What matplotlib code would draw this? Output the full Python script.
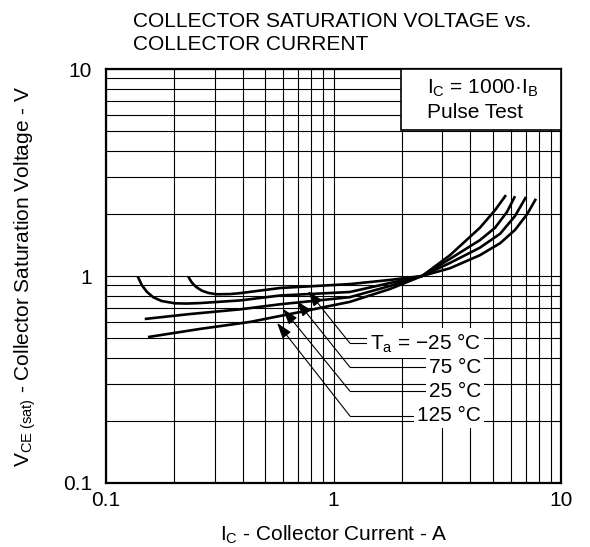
import matplotlib

matplotlib.use("Agg")
import matplotlib.pyplot as plt  # noqa: E402
from matplotlib.patches import Rectangle  # noqa: E402
from matplotlib.ticker import FixedLocator, NullFormatter  # noqa: E402

plt.rcParams["font.family"] = ["Liberation Sans", "DejaVu Sans"]
plt.rcParams["mathtext.fontset"] = "custom"
plt.rcParams["mathtext.rm"] = "Liberation Sans"
plt.rcParams["mathtext.it"] = "Liberation Sans"
plt.rcParams["axes.unicode_minus"] = True

FS = 15

# Ic [A] / VCE(sat) [V], one pair of lists per temperature
IC_M25 = [0.230, 0.238, 0.249, 0.264, 0.282, 0.307, 0.351, 0.388, 0.582, 1.18, 1.77, 2.45,
          3.25, 4.4, 5.40, 6.28, 7.10, 7.76]
VCE_M25 = [0.992, 0.932, 0.885, 0.849, 0.828, 0.816, 0.818, 0.826, 0.875, 0.914, 0.957, 1.0,
           1.09, 1.26, 1.44, 1.67, 1.99, 2.36]

IC_75 = [0.138, 0.1436, 0.151, 0.1614, 0.1757, 0.201, 0.2264, 0.259, 0.388, 0.582, 1.18, 1.77,
         2.45, 3.25, 4.4, 5.40, 6.28, 7.02]
VCE_75 = [0.992, 0.905, 0.840, 0.789, 0.757, 0.738, 0.736, 0.740, 0.762, 0.805, 0.837, 0.925,
          1.0, 1.156, 1.37, 1.60, 1.95, 2.41]

IC_25 = [0.148, 0.234, 0.388, 0.582, 1.18, 1.77, 2.45, 3.25, 4.4, 5.13, 5.79, 6.28]
VCE_25 = [0.62, 0.655, 0.69, 0.73, 0.79, 0.895, 1.0, 1.21, 1.49, 1.71, 2.04, 2.43]

IC_125 = [0.153, 0.259, 0.43, 0.713, 1.18, 1.77, 2.45, 3.25, 4.4, 5.13, 5.73]
VCE_125 = [0.507, 0.555, 0.60, 0.67, 0.75, 0.865, 1.0, 1.26, 1.71, 2.08, 2.46]

# callouts: label text, arrow tip (Ic, V), label height (V)
LABELS = ["T$_{\\mathrm{a}}$ = −25 °C", "75 °C", "25 °C", "125 °C"]
TIP_IC = [0.773, 0.691, 0.600, 0.565]
TIP_V = [0.846, 0.757, 0.693, 0.593]
LABEL_V = [0.474, 0.363, 0.278, 0.211]
ELBOW_IC = 1.18
LABEL_IC = 4.45

fig = plt.figure(figsize=(5.9, 5.47), dpi=100)
ax = fig.add_axes([106 / 590, 1 - 483 / 547, 455 / 590, 414 / 547])
ax.set_xscale("log")
ax.set_yscale("log")
ax.set_xlim(0.1, 10)
ax.set_ylim(0.1, 10)

ax.grid(which="both", color="black", linewidth=0.8)
ax.set_axisbelow(True)
ax.xaxis.set_major_locator(FixedLocator([0.1, 1, 10]))
ax.yaxis.set_major_locator(FixedLocator([0.1, 1, 10]))
ax.set_xticklabels(["0.1", "1", "10"])
ax.set_yticklabels(["0.1", "1", "10"])
ax.xaxis.set_minor_formatter(NullFormatter())
ax.yaxis.set_minor_formatter(NullFormatter())
ax.tick_params(which="both", length=0, labelsize=FS)
ax.tick_params(axis="x", pad=6)
ax.tick_params(axis="y", pad=10)
for sp in ax.spines.values():
    sp.set_linewidth(1.6)

for ic, v in [(IC_M25, VCE_M25), (IC_75, VCE_75), (IC_25, VCE_25), (IC_125, VCE_125)]:
    ax.plot(ic, v, color="black", linewidth=1.9, solid_capstyle="butt",
            solid_joinstyle="round", zorder=4)

for lab, tx, ty, ly in zip(LABELS, TIP_IC, TIP_V, LABEL_V):
    ax.plot([ELBOW_IC, LABEL_IC], [ly, ly], color="black", linewidth=0.8, zorder=3)
    ax.annotate("", xy=(tx, ty), xytext=(ELBOW_IC, ly),
                arrowprops=dict(arrowstyle="-|>,head_length=0.6,head_width=0.2",
                                color="black", lw=0.8, mutation_scale=16,
                                shrinkA=0, shrinkB=0), zorder=5)
    ax.text(LABEL_IC, ly, lab, ha="right", va="center", fontsize=FS, zorder=6,
            bbox=dict(boxstyle="square,pad=0.15", facecolor="white", edgecolor="none"))

# condition box in the upper right corner
ax.add_patch(Rectangle((0.648, 0.853), 0.352, 0.147, transform=ax.transAxes,
                       facecolor="white", edgecolor="black", linewidth=1.2, zorder=3))
ax.text(0.705, 0.954, "I$_{\\mathrm{C}}$ = 1000·I$_{\\mathrm{B}}$", transform=ax.transAxes,
        ha="left", va="center", fontsize=FS, zorder=6)
ax.text(0.705, 0.894, "Pulse Test", transform=ax.transAxes,
        ha="left", va="center", fontsize=FS, zorder=6)

ax.set_xlabel("I$_{\\mathrm{C}}$ - Collector Current - A", fontsize=FS, va="top")
ax.xaxis.set_label_coords(0.5, -0.099)
ax.set_ylabel("V$_{\\mathrm{CE\\ (sat)}}$ - Collector Saturation Voltage - V", fontsize=FS)
ax.yaxis.set_label_coords(-0.15, 0.5)

fig.text(133 / 590, 1 - 27 / 547, "COLLECTOR SATURATION VOLTAGE vs.",
         ha="left", va="baseline", fontsize=15)
fig.text(133 / 590, 1 - 50 / 547, "COLLECTOR CURRENT",
         ha="left", va="baseline", fontsize=15)

fig.savefig("out.png", dpi=100)
